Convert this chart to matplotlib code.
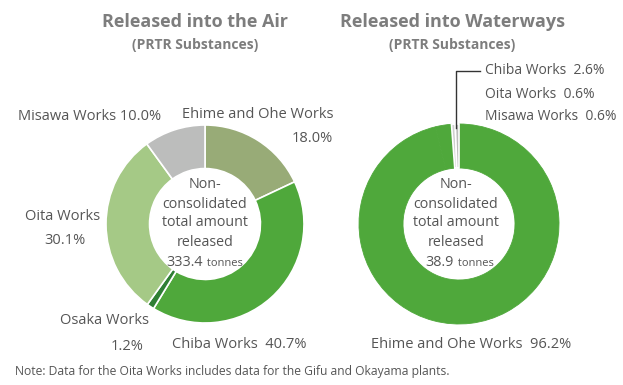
import matplotlib.pyplot as plt

plt.rcParams['font.family'] = ['Open Sans', 'DejaVu Sans']

# release shares (%) in clockwise order from 12 o'clock
air_sites = ['Ehime and Ohe Works', 'Chiba Works', 'Osaka Works', 'Oita Works', 'Misawa Works']
air_share = [18.0, 40.7, 1.2, 30.1, 10.0]
air_colors = ['#98ab77', '#4fa83b', '#2f7f34', '#a5c986', '#bcbdbc']
air_total = 333.4

water_sites = ['Ehime and Ohe Works', 'Chiba Works', 'Oita Works', 'Misawa Works']
water_share = [96.2, 2.6, 0.6, 0.6]
water_colors = ['#4fa83b', '#4fa83b', '#cfd0cf', '#bcbdbc']
water_total = 38.9

W, H = 623, 385
fig = plt.figure(figsize=(W / 100, H / 100), dpi=100)
ax = fig.add_axes([0, 0, 1, 1])

def Y(y):
    # pixel rows counted from the top
    return H - y

txt = '#555555'
ttl = '#7d7d7d'

def donut(cx, cy, r, vals, cols, edges):
    wedges, _ = ax.pie(vals, colors=cols, startangle=90, counterclock=False,
                       center=(cx, Y(cy)), radius=r, frame=True,
                       wedgeprops=dict(width=r * 0.44))
    for w, e, c in zip(wedges, edges, cols):
        if e:
            w.set_edgecolor('white')
            w.set_linewidth(1.2)
        else:
            # same-colour edge hides the seam between wedges
            w.set_edgecolor(c)
            w.set_linewidth(0.6)
    return wedges

def centre_text(cx, total):
    lines = ['Non-', 'consolidated', 'total amount', 'released']
    ys = [185, 204, 223, 242]
    for s, y in zip(lines, ys):
        ax.text(cx, Y(y), s, ha='center', va='center', fontsize=10.3, color=txt)
    ax.text(cx - 2, Y(262), f'{total}', ha='right', va='center', fontsize=10.3, color=txt)
    ax.text(cx - 1, Y(263), ' tonnes', ha='left', va='center', fontsize=8, color=txt)

# air
donut(205, 224, 99, air_share, air_colors, [True] * 5)
centre_text(205, air_total)

# waterways
donut(459, 224, 100, water_share, water_colors, [False, False, True, True])
centre_text(456, water_total)

# titles
for cx, t in [(195, 'Released into the Air'), (452, 'Released into Waterways')]:
    ax.text(cx, Y(22), t, ha='center', va='center', fontsize=13, fontweight='bold', color=ttl)
    ax.text(cx, Y(45), '(PRTR Substances)', ha='center', va='center', fontsize=10,
            fontweight='bold', color=ttl)

fs = 10.5
ax.text(18, Y(116), f'{air_sites[4]} {air_share[4]:.1f}%', ha='left', va='center', fontsize=fs, color=txt)
ax.text(333, Y(114), air_sites[0], ha='right', va='center', fontsize=fs, color=txt)
ax.text(333, Y(139), f'{air_share[0]:.1f}%', ha='right', va='center', fontsize=fs, color=txt)
ax.text(100, Y(217), air_sites[3], ha='right', va='center', fontsize=fs, color=txt)
ax.text(65, Y(241), f'{air_share[3]:.1f}%', ha='center', va='center', fontsize=fs, color=txt)
ax.text(60, Y(321), air_sites[2], ha='left', va='center', fontsize=fs, color=txt)
ax.text(144, Y(346), f'{air_share[2]:.1f}%', ha='right', va='center', fontsize=fs, color=txt)
ax.text(172, Y(345), f'{air_sites[1]}  {air_share[1]:.1f}%', ha='left', va='center', fontsize=fs, color=txt)

for i, y in zip([1, 2, 3], [71, 94, 117]):
    ax.text(485, Y(y), f'{water_sites[i]}  {water_share[i]:.1f}%', ha='left', va='center',
            fontsize=10, color=txt)
ax.plot([480, 456, 456], [Y(71), Y(71), Y(128)], color='#333333', lw=1.0)
ax.text(371, Y(345), f'{water_sites[0]}  {water_share[0]:.1f}%', ha='left', va='center',
        fontsize=fs, color=txt)

ax.text(15, Y(372), 'Note: Data for the Oita Works includes data for the Gifu and Okayama plants.',
        ha='left', va='center', fontsize=8.7, color=txt)

ax.set_xlim(0, W)
ax.set_ylim(0, H)
ax.set_aspect('equal')
ax.axis('off')

fig.savefig('out.png', dpi=100, facecolor='white')
